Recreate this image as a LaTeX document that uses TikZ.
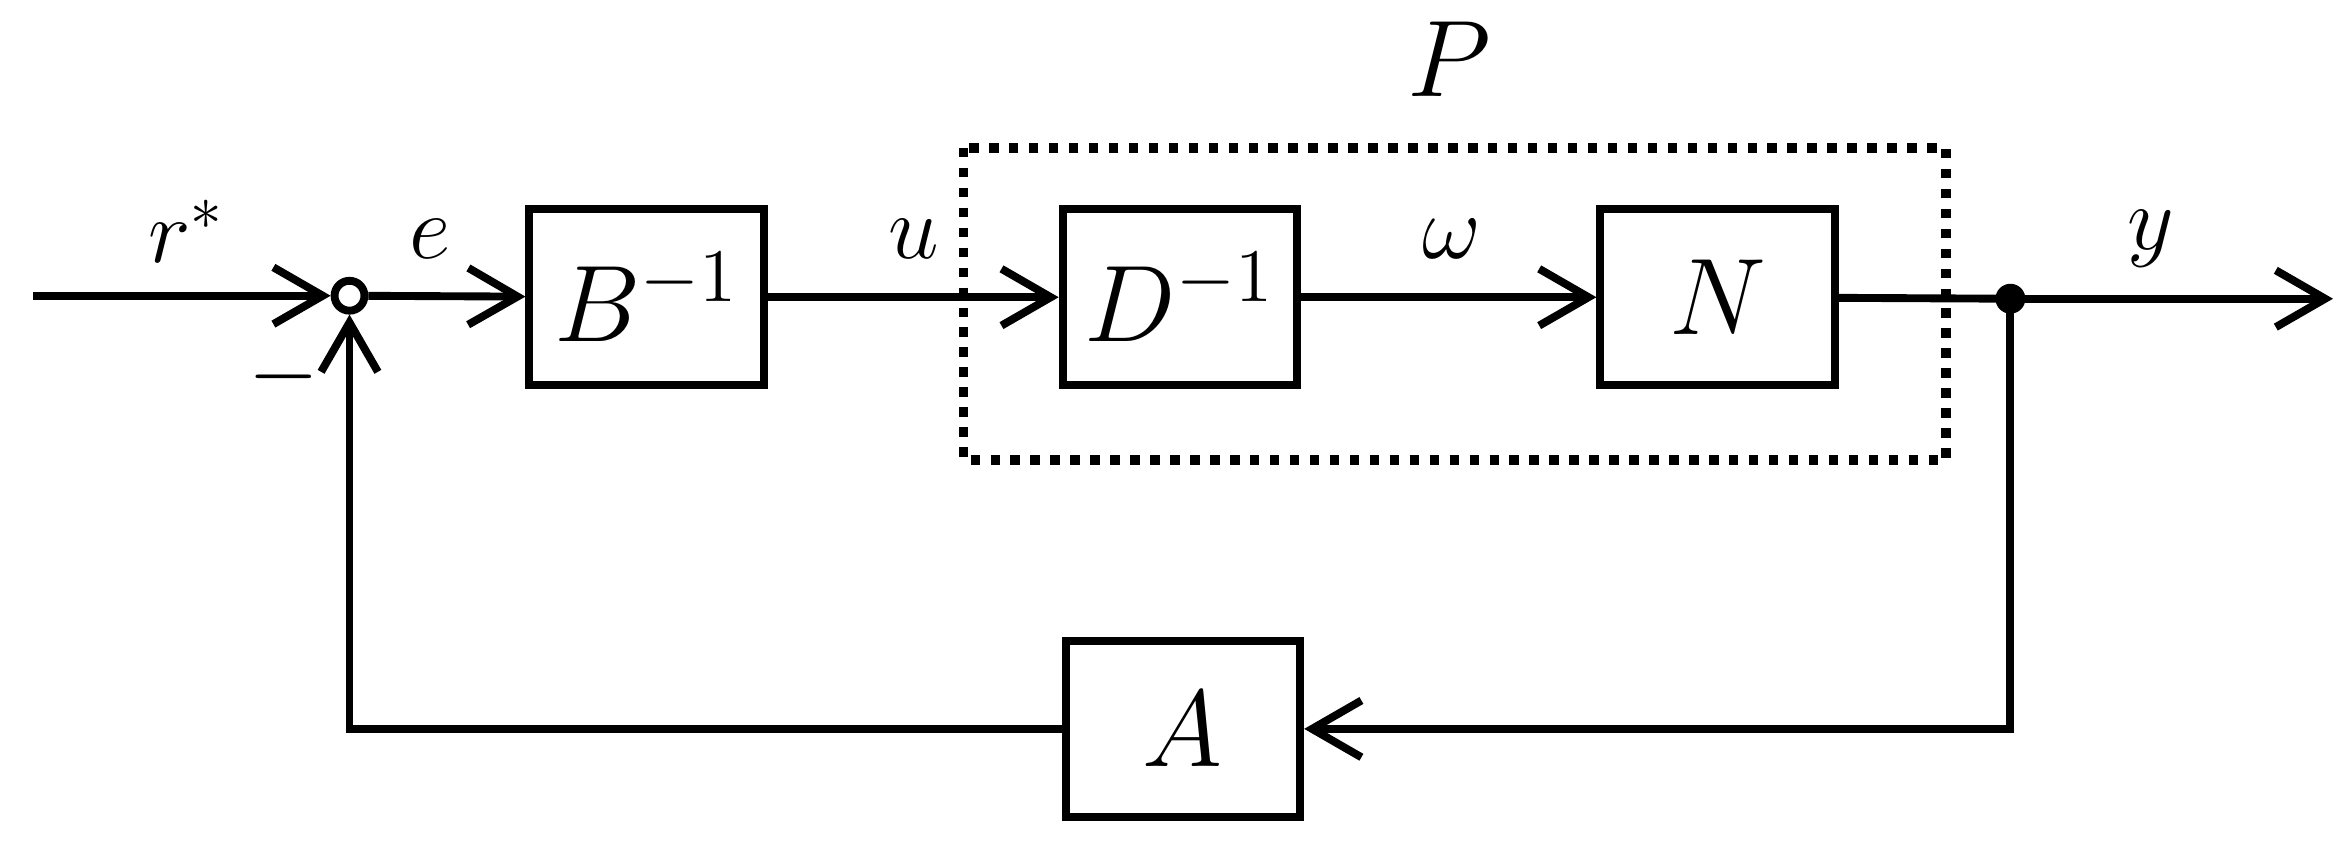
\documentclass[tikz,border=0pt]{standalone}
\usetikzlibrary{arrows.meta}
\begin{document}
\begin{tikzpicture}[x=0.01cm,y=-0.01cm]
	\tikzstyle{Block} = [draw,line width=1.5pt,minimum width=1.57cm,minimum height=1.18cm,font=\huge,inner sep=0pt]
	\tikzstyle{Sig} = [line width=1.5pt,-{Straight Barb[length=3.3mm,width=3.8mm,line width=1.5pt]}]
	\tikzstyle{Lab} = [font=\LARGE]
	\useasboundingbox (0,0) rectangle (1568,570);
	\node[Block] (B) at (433,199) {$B^{-1}$};
	\node[Block] (D) at (790,199) {$D^{-1}$};
	\node[Block] (N) at (1150,199) {$N$};
	\node[Block] (A) at (792,488) {$A$};
	\node[draw,circle,line width=1.5pt,minimum size=0.2cm,inner sep=0pt] (S) at (234,198) {};
	\fill (1346,200) circle (0.1cm) coordinate (Y);
	\coordinate (in) at (22,198);
	\coordinate (out) at (1562,200);
	\draw[dotted,line width=1.8pt] (645,99) rectangle (1303,308);
	\node[font=\huge] (P) at (970,40) {$P$};
	\draw[Sig] (in) -- (S);
	\draw[Sig] (S) -- (B);
	\draw[Sig] (B) -- (D);
	\draw[Sig] (D) -- (N);
	\draw[line width=1.5pt] (N) -- (Y);
	\draw[Sig] (Y) -- (out);
	\draw[Sig] (Y) |- (A);
	\draw[Sig] (A) -| (S);
	\node[Lab] (r) at (125,155) {$r^*$};
	\node[Lab] (e) at (288,160) {$e$};
	\node[Lab] (u) at (612,160) {$u$};
	\node[Lab] (w) at (972,160) {$\omega$};
	\node[Lab] (y) at (1440,160) {$y$};
	\node[Lab] (m) at (190,252) {$-$};
\end{tikzpicture}
\end{document}
